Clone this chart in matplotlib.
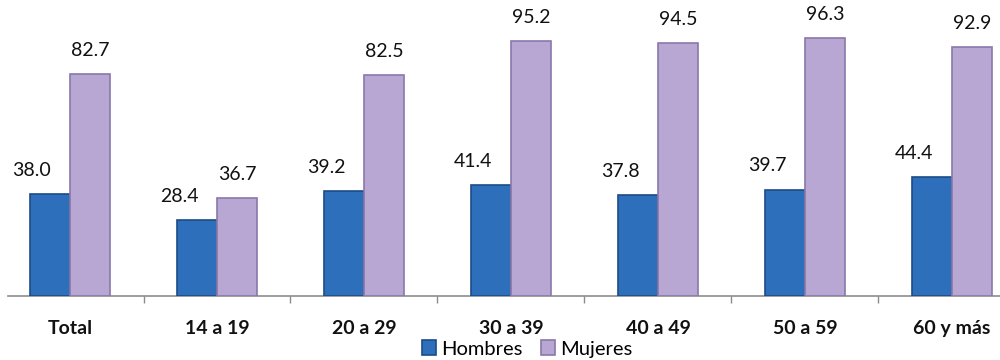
import matplotlib
matplotlib.use("Agg")
import matplotlib.pyplot as plt
import numpy as np

categories = ["Total", "14 a 19", "20 a 29", "30 a 39", "40 a 49", "50 a 59", "60 y más"]
hombres = [38.0, 28.4, 39.2, 41.4, 37.8, 39.7, 44.4]
mujeres = [82.7, 36.7, 82.5, 95.2, 94.5, 96.3, 92.9]
series_names = ["Hombres", "Mujeres"]

plt.rcParams['font.family'] = ['Lato', 'DejaVu Sans']

fig = plt.figure(figsize=(10, 3.6), dpi=100)
ax = fig.add_axes([0.008, 1 - 296/360, 0.992, 296/360])

x = np.arange(len(categories))
w = 0.272
blue, blue_edge = "#2D6FBB", "#1B4B86"
lav, lav_edge = "#B7A7D2", "#8A78AB"

b1 = ax.bar(x - w/2, hombres, w, color=blue, edgecolor=blue_edge, linewidth=1.2, label=series_names[0], zorder=3)
b2 = ax.bar(x + w/2, mujeres, w, color=lav, edgecolor=lav_edge, linewidth=1.2, label=series_names[1], zorder=3)

for xi, v in zip(x, hombres):
    ax.annotate(f"{v:.1f}", (xi - w/2, v), xytext=(-13, 17), textcoords="offset points",
                ha="center", va="center", fontsize=14, color="#111111")
for xi, v in zip(x, mujeres):
    ax.annotate(f"{v:.1f}", (xi + w/2, v), xytext=(0, 17), textcoords="offset points",
                ha="center", va="center", fontsize=14, color="#111111")

ax.set_xlim((8 - 70) / 147, (1000 - 70) / 147)
ax.set_ylim(0, 296 / 2.68)

for s in ["top", "right", "left"]:
    ax.spines[s].set_visible(False)
ax.spines["bottom"].set_color("#8c8c8c")
ax.spines["bottom"].set_linewidth(1.2)
ax.set_yticks([])

ax.set_xticks(x[:-1] + 0.5)
ax.set_xticklabels([])
ax.tick_params(axis="x", which="major", length=5, color="#8c8c8c", width=1)
ax.set_xticks(x, minor=True)
ax.set_xticklabels(categories, minor=True, fontsize=14, fontweight="bold", color="#111111")
ax.tick_params(axis="x", which="minor", length=0, pad=17)

fig.legend(handles=[b1, b2], labels=series_names, loc="center", bbox_to_anchor=(0.527, 1 - 349/360),
           ncol=2, frameon=False, fontsize=14.5, handlelength=0.7, handleheight=0.7,
           handletextpad=0.25, columnspacing=0.9, borderpad=0.1)

fig.savefig("out.png", dpi=100)
